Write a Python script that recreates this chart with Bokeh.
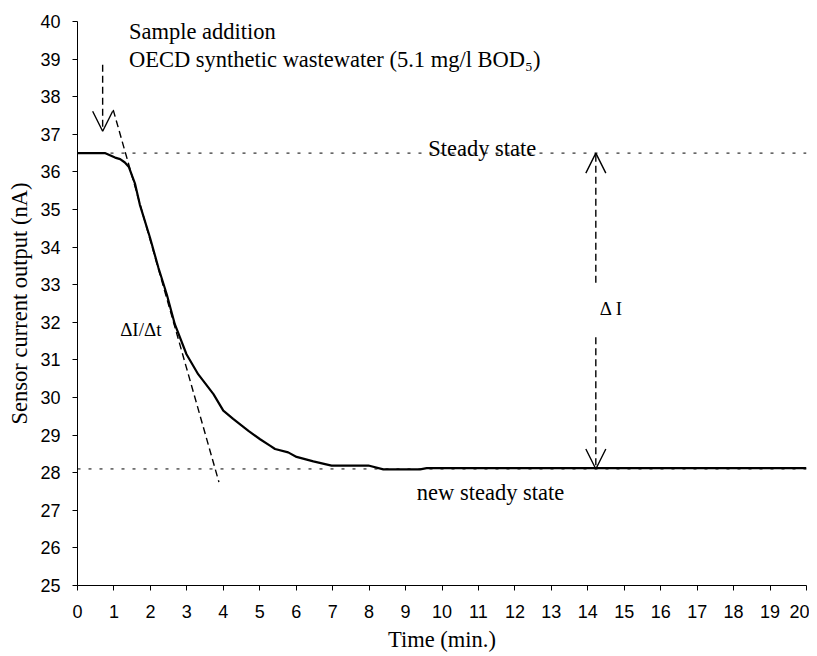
from bokeh.plotting import figure
from bokeh.models import Range1d, FixedTicker, Arrow, OpenHead, ColumnDataSource, Span
from bokeh.core.properties import value
from bokeh.embed import file_html
from bokeh.resources import INLINE

# ---- data ----
time_min = [0, 0.5, 0.75, 1.03, 1.17, 1.30, 1.41, 1.58, 1.71, 1.99, 2.22, 2.45, 2.67,
            2.99, 3.31, 3.73, 4.0, 4.27, 4.69, 5.01, 5.28, 5.42, 5.78, 6.01, 6.47,
            6.97, 7.98, 8.39, 9.40, 9.58, 20]
current_nA = [36.5, 36.5, 36.5, 36.38, 36.34, 36.25, 36.13, 35.68, 35.13, 34.25, 33.45,
              32.74, 31.95, 31.15, 30.62, 30.09, 29.65, 29.43, 29.11, 28.89, 28.72,
              28.63, 28.54, 28.42, 28.30, 28.19, 28.19, 28.09, 28.09, 28.12, 28.12]

steady_levels = [36.5, 28.1]
slope_x = [0.98, 3.88]
slope_y = [37.65, 27.75]
sample_arrow = [0.69, 38.85, 0.69, 37.08]      # x0, y0, x1, y1
delta_up = [14.22, 33.05, 14.22, 36.5]
delta_down = [14.22, 31.6, 14.22, 28.1]

x_ticks = list(range(0, 21))
y_ticks = list(range(25, 41))

labels_big = ["Sample addition", "OECD synthetic wastewater (5.1 mg/l BOD\u2085)",
              "Steady state", "new steady state"]
labels_big_x = [1.41, 1.41, 9.62, 9.31]
labels_big_y = [39.73, 39.0, 36.62, 27.47]
labels_small = ["\u0394I/\u0394t", "\u0394 I"]
labels_small_x = [1.17, 14.33]
labels_small_y = [31.80, 32.36]

SERIF = "Liberation Serif"
SANS = "Liberation Sans"

p = figure(frame_width=729, frame_height=564, output_backend="svg", toolbar_location=None,
           x_range=Range1d(0, 20), y_range=Range1d(25, 40),
           min_border_left=77, min_border_top=21, min_border_right=3, min_border_bottom=60)
p.outline_line_color = None
p.xgrid.visible = False
p.ygrid.visible = False

for ax, ticks in ((p.xaxis, x_ticks), (p.yaxis, y_ticks)):
    ax.ticker = FixedTicker(ticks=ticks)
    ax.minor_tick_line_color = None
    ax.major_tick_in = 0
    ax.major_tick_out = 5
    ax.axis_line_color = "black"
    ax.major_tick_line_color = "black"
    ax.major_label_text_font = SANS
    ax.major_label_text_font_size = "18px"
    ax.major_label_text_color = "black"
    ax.axis_label_text_font = SERIF
    ax.axis_label_text_font_style = "normal"
    ax.axis_label_text_color = "black"

p.xaxis.axis_label = "Time (min.)"
p.xaxis.axis_label_text_font_size = "22.5px"
p.xaxis.major_label_standoff = 14
p.xaxis.axis_label_standoff = 6
p.yaxis.axis_label = "Sensor current output (nA)"
p.yaxis.axis_label_text_font_size = "22.5px"
p.yaxis.major_label_standoff = 12
p.yaxis.axis_label_standoff = 5

# steady-state dotted lines
for lvl in steady_levels:
    p.add_layout(Span(location=lvl, dimension="width", line_color="black",
                      line_width=1, line_dash="3 8"))

# main curve
p.line(time_min, current_nA, line_color="black", line_width=2.2)

# slope (tangent) line
p.line(slope_x, slope_y, line_color="black", line_width=1.4, line_dash="7 4")

# arrows
for a in (sample_arrow, delta_up, delta_down):
    p.add_layout(Arrow(x_start=a[0], y_start=a[1], x_end=a[2], y_end=a[3],
                       line_color="black", line_width=1.4, line_dash="7 4",
                       end=OpenHead(size=20, line_width=1.4, line_color="black")))

src_big = ColumnDataSource(dict(x=labels_big_x, y=labels_big_y, t=labels_big))
p.text(x="x", y="y", text="t", source=src_big, text_font=value(SERIF),
       text_font_size="22.5px", text_color="black", text_baseline="alphabetic",
       text_align="left")
src_small = ColumnDataSource(dict(x=labels_small_x, y=labels_small_y, t=labels_small))
p.text(x="x", y="y", text="t", source=src_small, text_font=value(SERIF),
       text_font_size="19px", text_color="black", text_baseline="alphabetic",
       text_align="left")

open("out.html", "w").write(file_html(p, INLINE))
